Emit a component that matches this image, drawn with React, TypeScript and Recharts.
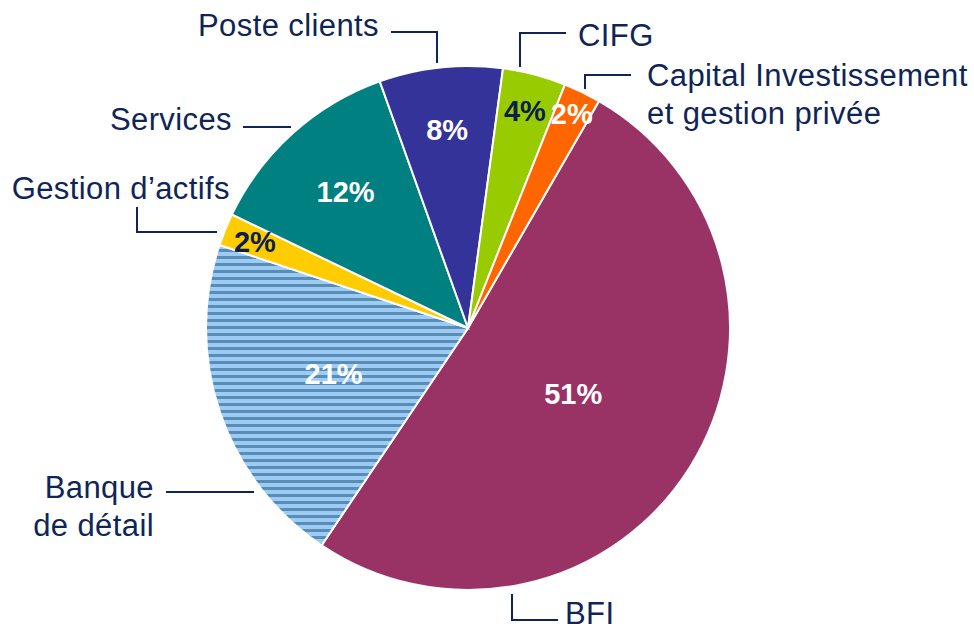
import { Cell, Pie, PieChart } from "recharts";

const segments = [
    "BFI",
    "Banque de détail",
    "Gestion d’actifs",
    "Services",
    "Poste clients",
    "CIFG",
    "Capital Investissement et gestion privée",
];
const shares = [51.1, 20.7, 2.0, 12.4, 7.6, 3.9, 2.3];
const percentLabels = ["51%", "21%", "2%", "12%", "8%", "4%", "2%"];
const nameLines = [
    ["BFI"],
    ["Banque", "de détail"],
    ["Gestion d’actifs"],
    ["Services"],
    ["Poste clients"],
    ["CIFG"],
    ["Capital Investissement", "et gestion privée"],
];

const colors = ["#993366", "url(#stripes)", "#FFCC00", "#008080", "#333399", "#99CC00", "#FF6600"];
const percentColors = ["#fff", "#fff", "#0B1F4F", "#fff", "#fff", "#0B1F4F", "#fff"];
const NAVY = "#0F2557";

// label placement, offsets from pie centre
const percentRadius = [124, 142, 230, 183, 199, 224, 238];
const leaders = [
    { pts: [[44, 266], [44, 292], [90, 292]], x: 97, anchor: "start", ys: [296] },
    { pts: [[-214, 164], [-302, 164]], x: -314, anchor: "end", ys: [170, 208] },
    { pts: [[-251, -96], [-331, -96], [-331, -121]], x: -238, anchor: "end", ys: [-129] },
    { pts: [[-177, -201], [-225, -201]], x: -236, anchor: "end", ys: [-198] },
    { pts: [[-31, -265], [-31, -296], [-77, -296]], x: -89, anchor: "end", ys: [-292] },
    { pts: [[52, -261], [52, -295], [98, -295]], x: 110, anchor: "start", ys: [-282] },
    { pts: [[117, -239], [117, -253], [163, -253]], x: 179, anchor: "start", ys: [-242, -204] },
];

const data = segments.map((name, i) => ({ name, value: shares[i] }));

const RAD = Math.PI / 180;

function renderLabel(props: any) {
    const { cx, cy, midAngle, index } = props;
    const r = percentRadius[index];
    const px = cx + r * Math.cos(-midAngle * RAD);
    const py = cy + r * Math.sin(-midAngle * RAD);
    const l = leaders[index];
    return (
        <g key={`lbl-${index}`}>
            <text
                x={px}
                y={py}
                fill={percentColors[index]}
                textAnchor="middle"
                dominantBaseline="central"
                fontSize={29}
                fontWeight="bold"
                fontFamily="Liberation Sans, Arial, sans-serif"
            >
                {percentLabels[index]}
            </text>
            <polyline
                points={l.pts.map(([x, y]) => `${cx + x},${cy + y}`).join(" ")}
                fill="none"
                stroke={NAVY}
                strokeWidth={2}
            />
            {nameLines[index].map((line, j) => (
                <text
                    key={j}
                    x={cx + l.x}
                    y={cy + l.ys[j]}
                    fill={NAVY}
                    textAnchor={l.anchor as any}
                    fontSize={31}
                    letterSpacing={0.4}
                    fontFamily="Liberation Sans, Arial, sans-serif"
                >
                    {line}
                </text>
            ))}
        </g>
    );
}

export default function App() {
    return (
        <div style={{ position: "absolute", left: 0, top: 0, background: "#fff" }}>
            <PieChart width={974} height={631} margin={{ top: 0, right: 0, bottom: 0, left: 0 }}>
                <defs>
                    <pattern id="stripes" width={8} height={7} patternUnits="userSpaceOnUse">
                        <rect width={8} height={7} fill="#9CCBF5" />
                        <rect y={4} width={8} height={3} fill="#5A8DB4" />
                    </pattern>
                </defs>
                <Pie
                    data={data}
                    dataKey="value"
                    nameKey="name"
                    cx={468}
                    cy={328}
                    outerRadius={262}
                    startAngle={60}
                    endAngle={-300}
                    stroke="#fff"
                    strokeWidth={2}
                    label={renderLabel}
                    labelLine={false}
                    isAnimationActive={false}
                >
                    {data.map((entry, index) => (
                        <Cell key={`cell-${index}`} fill={colors[index]} />
                    ))}
                </Pie>
            </PieChart>
        </div>
    );
}
